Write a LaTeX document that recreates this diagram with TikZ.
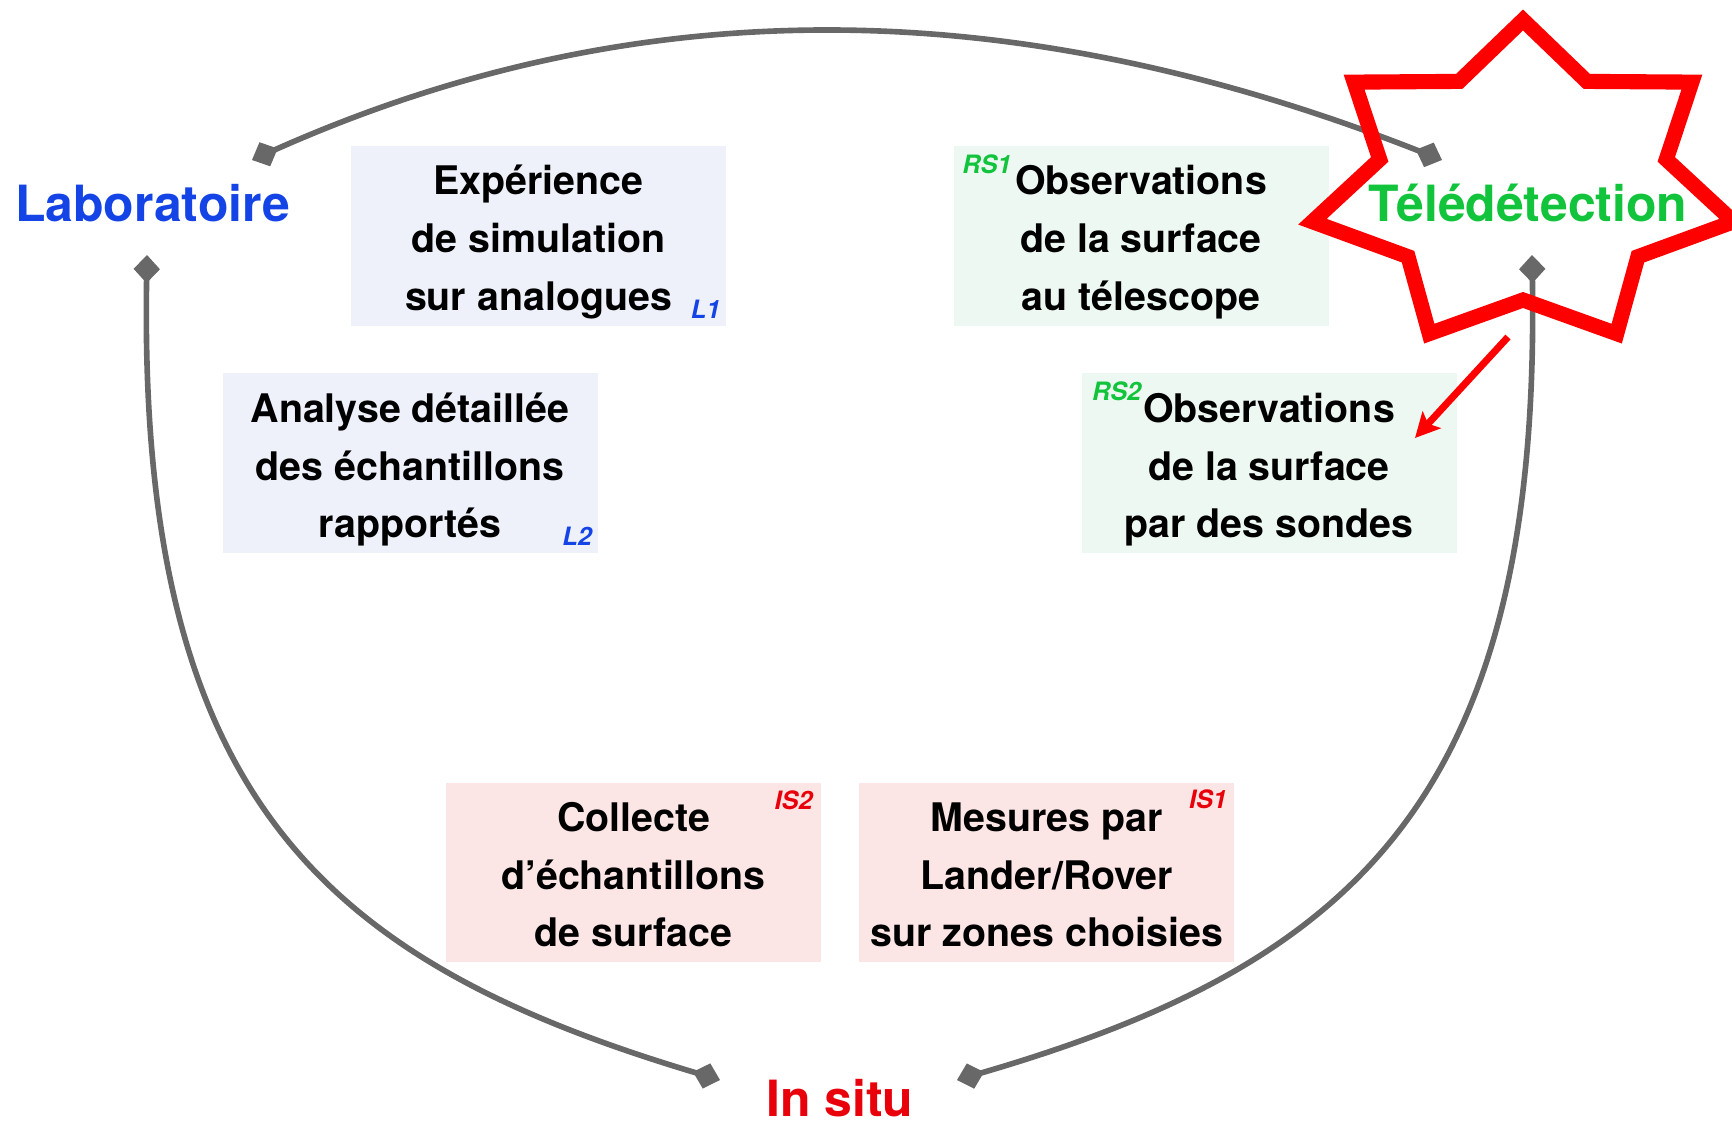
\documentclass[tikz,border=0pt]{standalone}
\usepackage{fontspec}
\setmainfont{TeX Gyre Heros}
\usetikzlibrary{
  arrows.meta,
  positioning
}
\definecolor{dmLab}{HTML}{1444E6}
\definecolor{dmTel}{HTML}{12C43C}
\definecolor{dmSitu}{HTML}{E8000A}
\definecolor{dmStar}{HTML}{FF0000}
\definecolor{dmGrey}{HTML}{686868}
\definecolor{dmLabFill}{HTML}{EEF1FA}
\definecolor{dmTelFill}{HTML}{EEF8F2}
\definecolor{dmSituFill}{HTML}{FCE5E5}
\tikzset{
  actbox/.style={
    minimum width=37.5mm, minimum height=18mm, inner sep=0pt, align=center,
    font=\bfseries\fontsize{11.2pt}{16.4pt}\selectfont,
    text height=42.2pt, text depth=0pt
  },
  labbox/.style={actbox, fill=dmLabFill},
  telbox/.style={actbox, fill=dmTelFill},
  situbox/.style={actbox, fill=dmSituFill},
  boxtag/.style={inner sep=0pt, font=\bfseries\itshape\fontsize{7.2pt}{8pt}\selectfont},
  pole/.style={inner sep=0pt, anchor=base, font=\bfseries\fontsize{14.2pt}{16pt}\selectfont},
  link/.style={
    {Diamond[length=8pt,width=7.5pt]}-{Diamond[length=8pt,width=7.5pt]},
    line width=1.6pt, dmGrey
  },
  starline/.style={draw=dmStar, line width=4.3pt, line join=miter},
  pointer/.style={-{Stealth[length=7pt,width=7pt,inset=1.5pt]}, line width=2pt, dmStar}
}

\begin{document}
\begin{tikzpicture}[x=0.1mm, y=-0.1mm]
  \useasboundingbox (0,0) rectangle (1732,1125);

  % activity boxes
  \node[labbox] (exp) at (538.5,236) {Expérience\\de simulation\\sur analogues};
  \node[labbox] (ana) at (410,463.5) {Analyse détaillée\\des échantillons\\rapportés};
  \node[telbox] (obst) at (1141,236) {Observations\\de la surface\\au télescope};
  \node[telbox] (obss) at (1269,463.5) {Observations\\de la surface\\par des sondes};
  \node[situbox] (coll) at (633.5,872.5) {Collecte\\d’échantillons\\de surface};
  \node[situbox, right=3.7mm of coll] (mes) {Mesures par\\Lander/Rover\\sur zones choisies};

  % tags
  \node[boxtag, text=dmLab] (exptag) at ([xshift=-6pt,yshift=5pt]exp.south east) {L1};
  \node[boxtag, text=dmLab] (anatag) at ([xshift=-6pt,yshift=5pt]ana.south east) {L2};
  \node[boxtag, text=dmTel] (obsttag) at ([xshift=9.7pt,yshift=-5.3pt]obst.north west) {RS1};
  \node[boxtag, text=dmTel] (obsstag) at ([xshift=10.2pt,yshift=-5.3pt]obss.north west) {RS2};
  \node[boxtag, text=dmSitu] (colltag) at ([xshift=-8pt,yshift=-5.3pt]coll.north east) {IS2};
  \node[boxtag, text=dmSitu] (mestag) at ([xshift=-7.7pt,yshift=-5pt]mes.north east) {IS1};

  % ends of the cycle
  \coordinate (lab-e) at (252,160);
  \coordinate (lab-s) at (147,255);
  \coordinate (tele-w) at (1442,160);
  \coordinate (tele-s) at (1532,255);
  \coordinate (situ-w) at (720,1080);
  \coordinate (situ-e) at (957,1080);

  \draw[link] (lab-e) .. controls (660,-22) and (1040,2) .. (tele-w);
  \draw[link] (lab-s) .. controls (138,800) and (325,962) .. (situ-w);
  \draw[link] (tele-s) .. controls (1541,800) and (1352,965) .. (situ-e);

  % star round the remote sensing pole
  \draw[starline] plot[samples at={0,...,13}, variable=\k]
    ({1523+ifthenelse(isodd(\k),147,216)*cos(90+\k*360/14)},
     {185-ifthenelse(isodd(\k),115,165)*sin(90+\k*360/14)}) -- cycle;

  \node[pole, text=dmLab] (lab) at (152.5,222) {Laboratoire};
  \node[pole, text=dmTel] (tele) at (1528,222) {Télédétection};
  \node[pole, text=dmSitu] (situ) at (840,1116) {In situ};

  \coordinate (ptail) at (1508,337);
  \coordinate (ptip) at (1415,438);
  \draw[pointer] (ptail) -- (ptip);
\end{tikzpicture}
\end{document}
